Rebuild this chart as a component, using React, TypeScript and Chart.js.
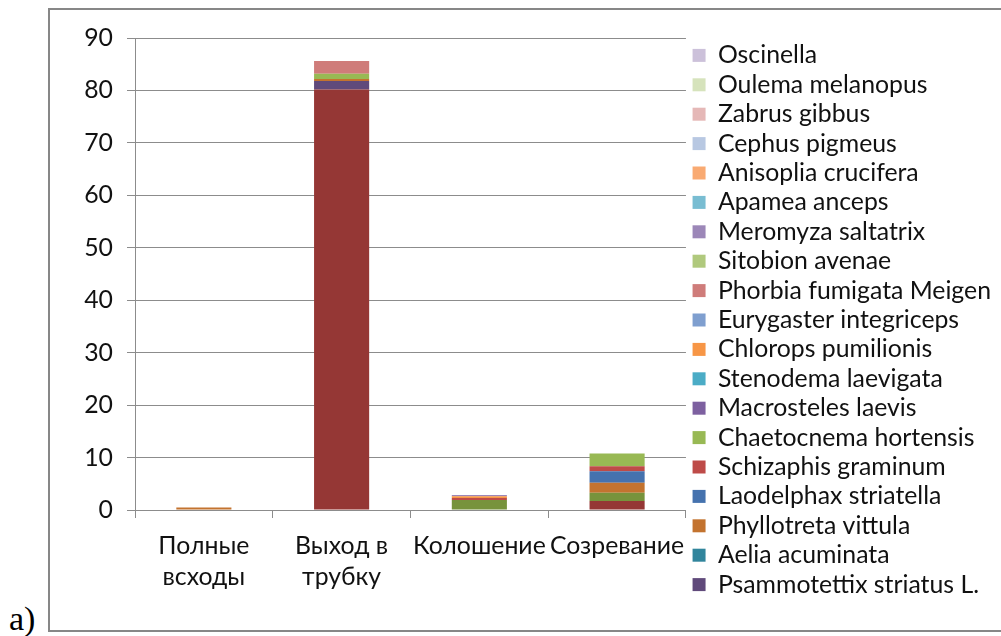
import React, { useEffect, useRef } from "react";
import { Chart, registerables } from "chart.js";

Chart.register(...registerables);

const categories: string[][] = [
  ["Полные", "всходы"],
  ["Выход в", "трубку"],
  ["Колошение"],
  ["Созревание"],
];

// Series listed bottom-to-top of the stack (the legend shows them reversed).
const seriesNames: string[] = [
  "", // unlabeled series (not in the legend)
  "", // unlabeled series (not in the legend)
  "Psammotettix striatus L.",
  "Aelia acuminata",
  "Phyllotreta vittula",
  "Laodelphax striatella",
  "Schizaphis graminum",
  "Chaetocnema hortensis",
  "Macrosteles laevis",
  "Stenodema laevigata",
  "Chlorops pumilionis",
  "Eurygaster integriceps",
  "Phorbia fumigata Meigen",
  "Sitobion avenae",
  "Meromyza saltatrix",
  "Apamea anceps",
  "Anisoplia crucifera",
  "Cephus pigmeus",
  "Zabrus gibbus",
  "Oulema melanopus",
  "Oscinella",
];

const seriesColors: string[] = [
  "#953735",
  "#77933C",
  "#604A7B",
  "#31859C",
  "#C3732F",
  "#4572AE",
  "#BE4B48",
  "#98B954",
  "#7D60A0",
  "#4BACC6",
  "#F79646",
  "#7F9FCF",
  "#CF7C7A",
  "#B0C97D",
  "#9C87B8",
  "#79BDD2",
  "#F9AA72",
  "#B8C8E2",
  "#E5B8B7",
  "#D6E3BC",
  "#CCC1DA",
];

const unlabeledA = [0, 80.2, 0, 1.7];
const unlabeledB = [0, 0, 1.9, 1.6];
const psammotettix = [0, 1.6, 0, 0];
const aelia = [0, 0, 0, 0];
const phyllotreta = [0.5, 0.4, 0, 1.9];
const laodelphax = [0, 0, 0, 2.2];
const schizaphis = [0, 0, 0.4, 0.95];
const chaetocnema = [0, 1.0, 0, 2.4];
const macrosteles = [0, 0, 0, 0];
const stenodema = [0, 0, 0, 0];
const chlorops = [0, 0, 0.3, 0];
const eurygaster = [0, 0, 0, 0];
const phorbia = [0, 2.4, 0, 0];
const sitobion = [0, 0, 0, 0];
const meromyza = [0, 0, 0.25, 0];
const apamea = [0, 0, 0, 0];
const anisoplia = [0, 0, 0, 0];
const cephus = [0, 0, 0, 0];
const zabrus = [0, 0, 0, 0];
const oulema = [0, 0, 0, 0];
const oscinella = [0, 0, 0, 0];

const seriesValues: number[][] = [
  unlabeledA, unlabeledB, psammotettix, aelia, phyllotreta, laodelphax,
  schizaphis, chaetocnema, macrosteles, stenodema, chlorops, eurygaster,
  phorbia, sitobion, meromyza, apamea, anisoplia, cephus, zabrus, oulema, oscinella,
];

const yTicks = [0, 10, 20, 30, 40, 50, 60, 70, 80, 90];

const FONT = "Lato, 'Open Sans', sans-serif";
const FS = 24.8;

export default function App() {
  const ref = useRef<HTMLCanvasElement | null>(null);

  useEffect(() => {
    if (!ref.current) return;
    const chart = new Chart(ref.current, {
      type: "bar",
      data: {
        labels: categories,
        datasets: seriesNames.map((name, i) => ({
          label: name,
          data: seriesValues[i],
          backgroundColor: seriesColors[i],
          borderWidth: 0,
          barPercentage: 0.4,
          categoryPercentage: 1.0,
        })),
      },
      options: {
        animation: false,
        responsive: false,
        maintainAspectRatio: false,
        layout: { padding: 0 },
        plugins: {
          tooltip: { enabled: false },
          legend: {
            position: "right",
            reverse: true,
            align: "center",
            maxWidth: 340,
            labels: {
              color: "#111",
              font: { family: FONT, size: FS },
              boxWidth: 13,
              boxHeight: 13,
              padding: 4.6,
              filter: (item) => item.text !== "",
            },
          },
        },
        scales: {
          x: {
            stacked: true,
            offset: true,
            afterFit: (scale) => {
              scale.height = 120;
            },
            grid: {
              offset: true,
              drawOnChartArea: false,
              drawTicks: true,
              tickLength: 8,
              color: "#8C8C8C",
              lineWidth: 1,
            },
            border: { color: "#8C8C8C", width: 1 },
            ticks: {
              color: "#111",
              font: { family: FONT, size: FS, lineHeight: 1.25 },
              padding: 13,
              maxRotation: 0,
              autoSkip: false,
            },
          },
          y: {
            stacked: true,
            min: 0,
            max: 90,
            afterBuildTicks: (scale) => {
              scale.ticks = yTicks.map((v) => ({ value: v }));
            },
            afterFit: (scale) => {
              scale.width = 85;
              scale.paddingTop = 28;
            },
            grid: {
              color: "#8C8C8C",
              lineWidth: 1,
              tickLength: 8,
            },
            border: { color: "#8C8C8C", width: 1 },
            ticks: {
              color: "#111",
              font: { family: FONT, size: FS },
              padding: 14,
            },
          },
          gap: {
            type: "linear",
            position: "right",
            display: true,
            afterFit: (scale) => {
              scale.width = 2;
            },
            grid: { display: false, drawTicks: false },
            border: { display: false },
            ticks: { display: false },
          },
        },
      },
    });
    return () => chart.destroy();
  }, []);

  return (
    <div style={{ position: "fixed", left: 0, top: 0, width: 1001, height: 636, overflow: "hidden", background: "#fff" }}>
      <div
        style={{
          position: "absolute",
          left: 48,
          top: 8,
          width: 1000,
          height: 620,
          border: "2px solid #878787",
          boxSizing: "content-box",
        }}
      >
        <canvas ref={ref} width={951} height={620} style={{ display: "block" }} />
      </div>
      <div
        style={{
          position: "absolute",
          left: 9,
          top: 601,
          fontFamily: "'Liberation Serif', serif",
          fontSize: 34,
          lineHeight: "36px",
          color: "#000",
        }}
      >
        а)
      </div>
    </div>
  );
}
